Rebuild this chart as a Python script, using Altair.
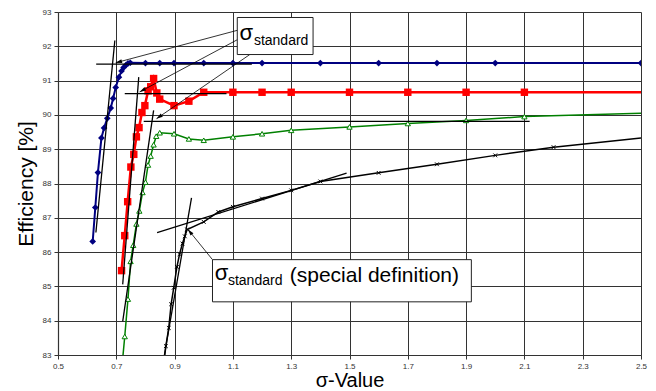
import math
import altair as alt
import pandas as pd

# ---------------- data ----------------
x_ticks = [0.5, 0.7, 0.9, 1.1, 1.3, 1.5, 1.7, 1.9, 2.1, 2.3, 2.5]
y_ticks = [83, 84, 85, 86, 87, 88, 89, 90, 91, 92, 93]

blue_x = [0.619, 0.628, 0.637, 0.649, 0.658, 0.669, 0.681, 0.689, 0.698, 0.709, 0.718, 0.725, 0.733,
          0.740, 0.748, 0.80, 0.849, 0.898, 1.0, 1.1, 1.2, 1.4, 1.6, 1.8, 2.0, 2.5]
blue_y = [86.31, 87.30, 88.32, 89.33, 89.62, 89.90, 90.20, 90.48, 90.80, 91.10, 91.28, 91.38, 91.45,
          91.50, 91.52, 91.51, 91.51, 91.51, 91.51, 91.51, 91.51, 91.51, 91.51, 91.51, 91.51, 91.51]
blue_marked = [True] * 26

red_x = [0.718, 0.729, 0.739, 0.750, 0.760, 0.769, 0.778, 0.788, 0.798, 0.809, 0.818, 0.828, 0.839,
         0.849, 0.898, 0.949, 1.0, 1.1, 1.2, 1.3, 1.5, 1.7, 1.9, 2.1, 2.5]
red_y = [85.46, 86.48, 87.47, 88.48, 88.85, 89.36, 89.63, 90.07, 90.27, 90.70, 90.82, 91.06, 90.64,
         90.46, 90.27, 90.40, 90.66, 90.66, 90.66, 90.66, 90.66, 90.66, 90.66, 90.66, 90.66]
red_marked = [True] * 24 + [False]

green_x = [0.722, 0.729, 0.740, 0.749, 0.758, 0.769, 0.779, 0.790, 0.800, 0.809, 0.818, 0.828, 0.837,
           0.849, 0.898, 0.949, 1.0, 1.1, 1.2, 1.3, 1.5, 1.7, 1.9, 2.1, 2.5]
green_y = [82.90, 83.54, 84.63, 85.73, 86.20, 86.82, 87.20, 87.74, 88.04, 88.54, 88.80, 89.13, 89.38,
           89.48, 89.45, 89.30, 89.26, 89.36, 89.45, 89.55, 89.65, 89.75, 89.84, 89.95, 90.05]
green_marked = [False] + [True] * 23 + [False]

black_x = [0.865, 0.870, 0.880, 0.888, 0.897, 0.908, 0.917, 0.927, 0.935, 0.943, 1.0, 1.05, 1.1,
           1.2, 1.3, 1.4, 1.6, 1.8, 2.0, 2.2, 2.5]
black_y = [82.90, 83.26, 83.79, 84.48, 84.96, 85.57, 85.94, 86.25, 86.46, 86.66, 86.88, 87.17, 87.32,
           87.56, 87.80, 88.06, 88.31, 88.56, 88.82, 89.06, 89.33]
black_marked = [False] + [True] * 19 + [False]

# tangent / reference lines (data coordinates)
tan_x1 = [0.631, 0.695, 0.729, 0.777, 0.794, 0.828, 0.958, 0.840]
tan_y1 = [91.48, 92.17, 90.62, 91.10, 89.81, 90.13, 87.58, 86.57]
tan_x2 = [1.165, 0.630, 1.078, 0.722, 2.118, 0.722, 0.865, 1.490]
tan_y2 = [91.48, 86.57, 90.62, 85.06, 89.81, 83.98, 83.00, 88.30]

# annotation arrows: from label box to intersection point
arr_fx = [1.117, 1.117, 1.158, 1.030]
arr_fy = [92.47, 92.20, 91.76, 85.78]
arr_tx = [0.698, 0.780, 0.838, 0.946]
arr_ty = [91.52, 90.67, 89.89, 86.66]

# label boxes
box_x1 = [1.115, 1.030]
box_x2 = [1.375, 1.918]
box_y1 = [92.84, 85.78]
box_y2 = [91.76, 84.55]

sigma_x = [1.123, 1.0376]
sigma_y = [92.17, 85.18]
sub_x = [1.172, 1.083]
sub_y = [92.05, 85.03]
extra_x = [1.295]
extra_y = [85.13]
extra_text = ["(special definition)"]

# ---------------- chart ----------------
FONT = "Liberation Sans"
W, H = 583, 343
X_DOMAIN = [0.5, 2.5]
Y_DOMAIN = [83, 93]

xs = alt.Scale(domain=X_DOMAIN, nice=False, zero=False)
ysc = alt.Scale(domain=Y_DOMAIN, nice=False, zero=False)

x_axis = alt.Axis(values=x_ticks, format=".1f", title="σ-Value", grid=True,
                  labelFlush=False, labelOverlap=False)
y_axis = alt.Axis(values=y_ticks, format="d", title="Efficiency [%]", grid=True,
                  labelOverlap=False)


def X(f):
    return alt.X(f, type="quantitative", scale=xs, axis=x_axis)


def Y(f):
    return alt.Y(f, type="quantitative", scale=ysc, axis=y_axis)


def sdf(xv, yv, mv):
    return pd.DataFrame({"x": xv, "y": yv, "m": mv})


series = [
    (blue_x, blue_y, blue_marked, "#000080", 2.0),
    (red_x, red_y, red_marked, "#FF0000", 2.5),
    (green_x, green_y, green_marked, "#008000", 1.5),
    (black_x, black_y, black_marked, "#000000", 1.5),
]

layers = []
for xv, yv, mv, col, sw in series:
    d = sdf(xv, yv, mv)
    layers.append(alt.Chart(d).mark_line(color=col, strokeWidth=sw, clip=True).encode(
        x=X("x"), y=Y("y")))

# markers
blue_pts = alt.Chart(sdf(blue_x, blue_y, blue_marked)).transform_filter("datum.m").mark_point(
    shape="diamond", filled=True, color="#000080", size=45, opacity=1, clip=True
).encode(x=X("x"), y=Y("y"))
red_pts = alt.Chart(sdf(red_x, red_y, red_marked)).transform_filter("datum.m").mark_point(
    shape="square", filled=True, color="#FF0000", size=55, opacity=1, clip=True
).encode(x=X("x"), y=Y("y"))
green_pts = alt.Chart(sdf(green_x, green_y, green_marked)).transform_filter("datum.m").mark_point(
    shape="triangle-up", filled=True, fill="white", stroke="#008000", strokeWidth=1,
    size=28, opacity=1, clip=True
).encode(x=X("x"), y=Y("y"))
black_pts = alt.Chart(sdf(black_x, black_y, black_marked)).transform_filter("datum.m").mark_point(
    shape="M-1,-1L1,1M-1,1L1,-1", filled=False, stroke="#000000", strokeWidth=1,
    size=14, opacity=1, clip=True
).encode(x=X("x"), y=Y("y"))
layers += [blue_pts, red_pts, green_pts, black_pts]

# tangent lines
tan_df = pd.DataFrame({"x1": tan_x1, "y1": tan_y1, "x2": tan_x2, "y2": tan_y2})
layers.append(alt.Chart(tan_df).mark_rule(color="black", strokeWidth=1.3, clip=True).encode(
    x=X("x1"), y=Y("y1"), x2="x2", y2="y2"))


# arrows
def to_px(x, y):
    return ((x - X_DOMAIN[0]) / (X_DOMAIN[1] - X_DOMAIN[0]) * W,
            (Y_DOMAIN[1] - y) / (Y_DOMAIN[1] - Y_DOMAIN[0]) * H)


angles = []
for fx, fy, tx, ty in zip(arr_fx, arr_fy, arr_tx, arr_ty):
    p0 = to_px(fx, fy)
    p1 = to_px(tx, ty)
    dx, dy = p1[0] - p0[0], p1[1] - p0[1]
    angles.append(math.degrees(math.atan2(dx, -dy)) % 360)

arr_df = pd.DataFrame({"fx": arr_fx, "fy": arr_fy, "tx": arr_tx, "ty": arr_ty, "ang": angles})
layers.append(alt.Chart(arr_df).mark_rule(color="black", strokeWidth=0.8).encode(
    x=X("fx"), y=Y("fy"), x2="tx", y2="ty"))
layers.append(alt.Chart(arr_df).mark_point(
    shape="M0,0L-0.6,2L0.6,2Z", filled=True, color="black", size=40, opacity=1
).encode(x=X("tx"), y=Y("ty"), angle=alt.Angle("ang:Q", scale=None)))

# boxes
box_df = pd.DataFrame({"x1": box_x1, "x2": box_x2, "y1": box_y1, "y2": box_y2})
layers.append(alt.Chart(box_df).mark_rect(fill="white", stroke="#222222", strokeWidth=1).encode(
    x=X("x1"), x2="x2", y=Y("y1"), y2="y2"))

# texts
sig_df = pd.DataFrame({"x": sigma_x, "y": sigma_y, "t": ["σ", "σ"]})
sub_df = pd.DataFrame({"x": sub_x, "y": sub_y, "t": ["standard", "standard"]})
ext_df = pd.DataFrame({"x": extra_x, "y": extra_y, "t": extra_text})
layers.append(alt.Chart(sig_df).mark_text(align="left", baseline="alphabetic", font=FONT,
                                          fontSize=22, color="black").encode(
    x=X("x"), y=Y("y"), text="t:N"))
layers.append(alt.Chart(sub_df).mark_text(align="left", baseline="alphabetic", font=FONT,
                                          fontSize=14, color="black").encode(
    x=X("x"), y=Y("y"), text="t:N"))
layers.append(alt.Chart(ext_df).mark_text(align="left", baseline="alphabetic", font=FONT,
                                          fontSize=21, color="black").encode(
    x=X("x"), y=Y("y"), text="t:N"))

chart = alt.layer(*layers).properties(
    width=W, height=H,
    autosize=alt.AutoSizeParams(type="none"),
    padding={"left": 50, "top": 4, "right": 7, "bottom": 38},
).configure_view(stroke=None).configure_axis(
    gridColor="#333333", gridWidth=1, gridOpacity=1,
    domainColor="#333333", domainWidth=1.2,
    tickColor="#333333", tickSize=4, tickWidth=1,
    labelFont=FONT, labelFontSize=8, labelColor="#333333", labelPadding=3,
    titleFont=FONT, titleFontSize=21, titleFontWeight="normal", titleColor="black",
).configure_axisX(titlePadding=0, titleFontSize=20).configure_axisY(titlePadding=6)

chart.save("out.html", embed_options={"renderer": "svg", "actions": False})
